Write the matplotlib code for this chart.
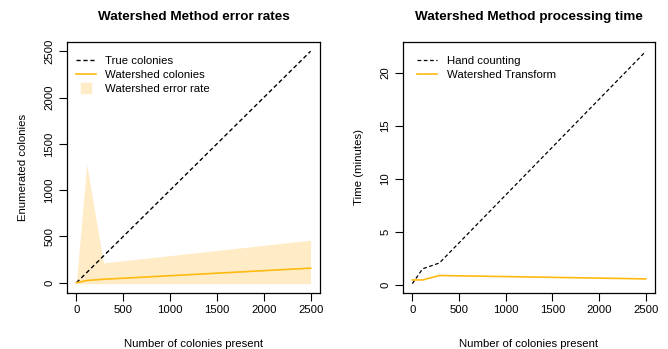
import matplotlib
matplotlib.use('Agg')
import matplotlib.pyplot as plt
from matplotlib.lines import Line2D

plt.rcParams['font.family'] = ['Liberation Sans', 'DejaVu Sans']

# colonies present (x)
colonies = [0, 110, 290, 2500]

# left panel: error rates
true_colonies = [0, 110, 290, 2500]
watershed_colonies = [0, 25, 38, 158]
error_upper = [0, 1280, 215, 460]
error_lower = [-8, -10, -10, -10]

# right panel: processing time (minutes)
hand_time = [0.1, 1.5, 2.05, 22.0]
watershed_time = [0.45, 0.45, 0.87, 0.55]

orange = '#FFB90F'
band = '#FFECC6'
fs = 8.2


def r_style(ax):
    ax.tick_params(direction='out', length=6, width=0.8, labelsize=fs, pad=3)
    for s in ax.spines.values():
        s.set_linewidth(0.9)
    for lab in ax.get_yticklabels():
        lab.set_rotation(90)
        lab.set_va('center')


fig = plt.figure(figsize=(6.68, 3.49), dpi=100)

# left: error rates
ax1 = fig.add_axes([0.1003, 0.1605, 0.3787, 0.7192])
ax1.fill_between(colonies, error_lower, error_upper, color=band, linewidth=0)
ax1.plot(colonies, true_colonies, color='black', linestyle=(0, (3, 2)), linewidth=1)
ax1.plot(colonies, watershed_colonies, color=orange, linewidth=1.2)
ax1.set_xlim(-100, 2600)
ax1.set_ylim(-110, 2600)
ax1.set_xticks([0, 500, 1000, 1500, 2000, 2500])
ax1.set_yticks([0, 500, 1000, 1500, 2000, 2500])
ax1.set_title('Watershed Method error rates', fontsize=9.7, fontweight='bold', pad=16)
ax1.set_xlabel('Number of colonies present', fontsize=fs, labelpad=17)
ax1.set_ylabel('Enumerated colonies', fontsize=fs, labelpad=12)
r_style(ax1)
handles = [Line2D([], [], color='black', linestyle=(0, (3, 2)), linewidth=1),
           Line2D([], [], color=orange, linewidth=1.2),
           Line2D([], [], color=band, marker='s', markersize=7, linestyle='none')]
ax1.legend(handles, ['True colonies', 'Watershed colonies', 'Watershed error rate'],
           loc='upper left', bbox_to_anchor=(0.036, 0.945), frameon=False, fontsize=fs,
           handlelength=1.75, handletextpad=0.8, labelspacing=0.38,
           borderaxespad=0, borderpad=0)

# right: processing time
ax2 = fig.add_axes([0.6033, 0.1605, 0.3772, 0.7192])
ax2.plot(colonies, hand_time, color='black', linestyle=(0, (3, 2)), linewidth=0.9)
ax2.plot(colonies, watershed_time, color=orange, linewidth=1.2)
ax2.set_xlim(-100, 2600)
ax2.set_ylim(-0.78, 22.9)
ax2.set_xticks([0, 500, 1000, 1500, 2000, 2500])
ax2.set_yticks([0, 5, 10, 15, 20])
ax2.set_title('Watershed Method processing time', fontsize=9.7, fontweight='bold', pad=16)
ax2.set_xlabel('Number of colonies present', fontsize=fs, labelpad=17)
ax2.set_ylabel('Time (minutes)', fontsize=fs, labelpad=12)
r_style(ax2)
ax2.legend(['Hand counting', 'Watershed Transform'], loc='upper left',
           bbox_to_anchor=(0.056, 0.945), frameon=False, fontsize=fs,
           handlelength=1.75, handletextpad=0.9, labelspacing=0.38,
           borderaxespad=0, borderpad=0)

fig.savefig('out.png', dpi=100)
